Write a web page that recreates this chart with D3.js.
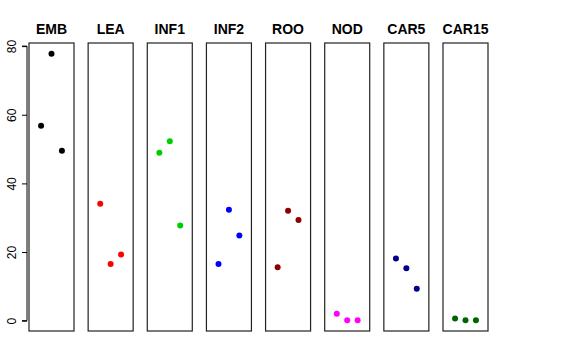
<!DOCTYPE html>
<html><head><meta charset="utf-8">
<script src="https://cdn.jsdelivr.net/npm/d3@7"></script>
<style>body{margin:0;background:#fff}svg{display:block}</style>
</head><body>
<svg id="c" width="576" height="360"></svg>
<script>
const categories = ["EMB","LEA","INF1","INF2","ROO","NOD","CAR5","CAR15"];
const colors = ["#000000","#FF0000","#00CD00","#0000FF","#8B0000","#FF00FF","#00008B","#006400"];
const positions = [1,2,3];
const values = [
  [56.8, 77.8, 49.5],
  [34.1, 16.5, 19.3],
  [48.9, 52.3, 27.7],
  [16.5, 32.3, 24.8],
  [15.6, 32.0, 29.3],
  [2.0, 0.1, 0.1],
  [18.1, 15.3, 9.3],
  [0.6, 0.1, 0.1]
];
const yTicks = [0,20,40,60,80];

(function(){
const svg = d3.select("#c");
const plotTop = 43, plotBottom = 331;
const allV = values.flat();
const vmin = d3.min(allV), vmax = d3.max(allV), vr = vmax - vmin;
const y = d3.scaleLinear().domain([vmin - 0.04*vr, vmax + 0.04*vr]).range([plotBottom, plotTop]);
const panel = d3.scaleBand().domain(categories).range([29, 488]).paddingInner(0.239).paddingOuter(0);
const bw = panel.bandwidth();
const xi = d3.scaleLinear().domain([-0.16, 4.16]).range([0, bw]);

categories.forEach((cat, i) => {
  const g = svg.append("g").attr("transform", `translate(${panel(cat)},0)`);
  g.append("rect").attr("x", 0).attr("y", plotTop).attr("width", bw).attr("height", plotBottom - plotTop)
    .attr("fill", "none").attr("stroke", "#222").attr("stroke-width", 1.2);
  g.append("text").attr("x", bw/2).attr("y", 34).attr("text-anchor", "middle")
    .attr("font-family", "Liberation Sans, Arial, sans-serif").attr("font-weight", "bold")
    .attr("font-size", 14).text(cat);
  g.selectAll("circle").data(values[i]).join("circle")
    .attr("cx", (d, j) => xi(positions[j])).attr("cy", d => y(d)).attr("r", 3)
    .attr("fill", colors[i]);
});

const ax = svg.append("g").attr("transform", "translate(27,0)");
ax.call(d3.axisLeft(y).tickValues(yTicks).tickSize(5).tickFormat(d3.format("d")));
ax.select(".domain").attr("d", `M-5,${y(0)}H0V${y(80)}H-5`).attr("stroke", "#000");
ax.selectAll(".tick line").attr("stroke", "#000");
ax.selectAll(".tick text").attr("font-family", "Liberation Sans, Arial, sans-serif").attr("font-size", 12)
  .attr("fill", "#000").attr("transform", "rotate(-90)").attr("x", 0).attr("y", -15)
  .attr("dy", "0.35em").attr("text-anchor", "middle");
})();
</script>
</body></html>
